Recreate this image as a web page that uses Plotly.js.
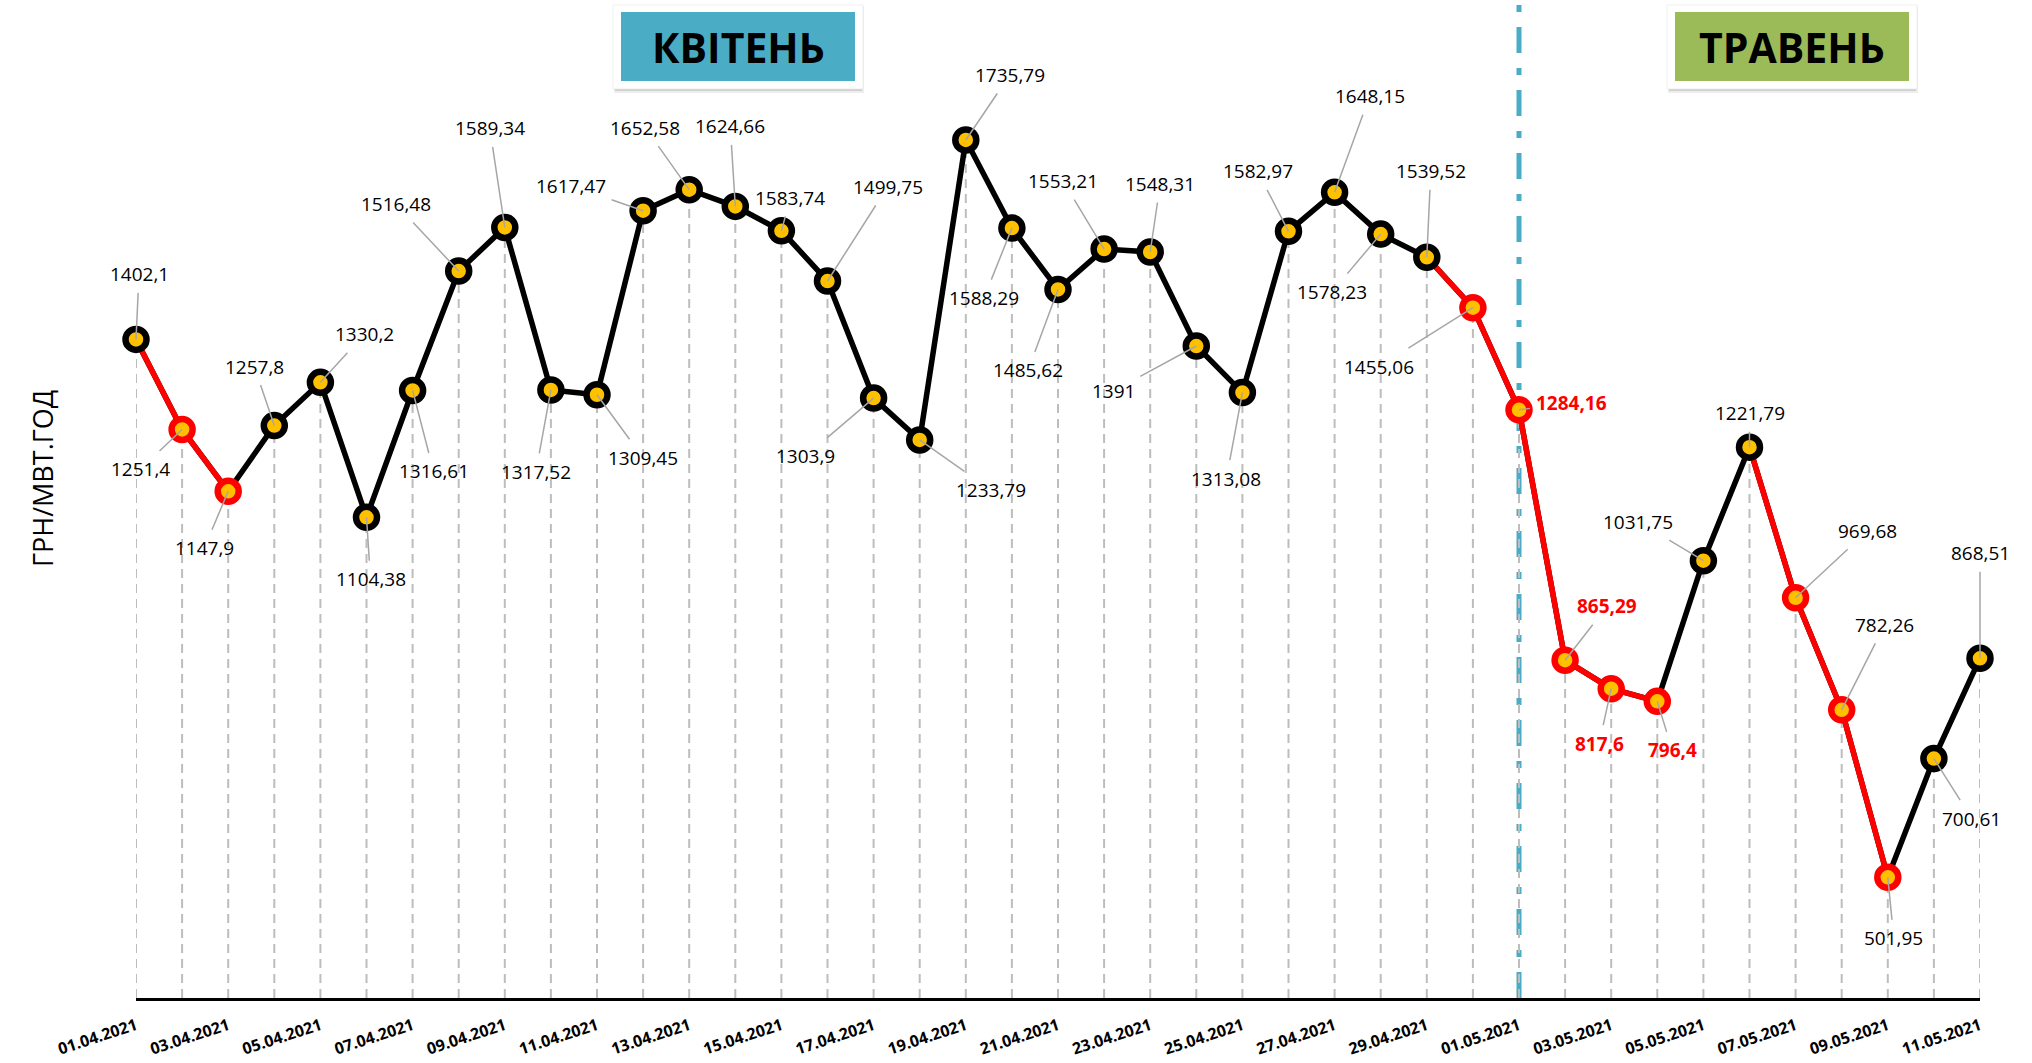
<!DOCTYPE html>
<html>
<head>
<meta charset="utf-8">
<script src="https://cdn.plot.ly/plotly-3.0.1.min.js"></script>
<style>
  html, body { margin: 0; padding: 0; background: #fff; }
  #chart { width: 2032px; height: 1063px; }
</style>
</head>
<body>
<div id="chart"></div>
<script>
const dates = [
  '01.04.2021', '02.04.2021', '03.04.2021', '04.04.2021', '05.04.2021', '06.04.2021',
  '07.04.2021', '08.04.2021', '09.04.2021', '10.04.2021', '11.04.2021', '12.04.2021',
  '13.04.2021', '14.04.2021', '15.04.2021', '16.04.2021', '17.04.2021', '18.04.2021',
  '19.04.2021', '20.04.2021', '21.04.2021', '22.04.2021', '23.04.2021', '24.04.2021',
  '25.04.2021', '26.04.2021', '27.04.2021', '28.04.2021', '29.04.2021', '30.04.2021',
  '01.05.2021', '02.05.2021', '03.05.2021', '04.05.2021', '05.05.2021', '06.05.2021',
  '07.05.2021', '08.05.2021', '09.05.2021', '10.05.2021', '11.05.2021'
];
const prices = [
  1402.1, 1251.4, 1147.9, 1257.8, 1330.2, 1104.38, 1316.61, 1516.48, 1589.34, 1317.52,
  1309.45, 1617.47, 1652.58, 1624.66, 1583.74, 1499.75, 1303.9, 1233.79, 1735.79, 1588.29,
  1485.62, 1553.21, 1548.31, 1391, 1313.08, 1582.97, 1648.15, 1578.23, 1539.52, 1455.06,
  1284.16, 865.29, 817.6, 796.4, 1031.75, 1221.79, 969.68, 782.26, 501.95, 700.61, 868.51
];
// segment i -> i+1 drawn in red
const redSegments = [0, 1, 28, 29, 30, 31, 32, 35, 36, 37];
const redMarkers = [1, 2, 29, 30, 31, 32, 33, 36, 37, 38];
const boldLabels = [30, 31, 32, 33];
const tickDates = dates.filter((d, i) => i % 2 === 0);
const months = ['КВІТЕНЬ', 'ТРАВЕНЬ'];

// label offsets from the point, px
const labelOffsets = [
  [3, -65], [-42, 40], [-24, 57], [-20, -59], [44, -48], [4, 62], [21, 81], [-63, -67],
  [-15, -99], [-15, 82], [46, 63], [-72, -25], [-44, -62], [-5, -80], [9, -33], [60, -94],
  [-68, 58], [71, 50], [44, -65], [-28, 70], [-30, 81], [-41, -68], [10, -68], [-83, 45],
  [-16, 86], [-31, -60], [35, -96], [-49, 58], [4, -86], [-94, 59], [52, -7], [42, -54],
  [-12, 55], [15, 49], [-65, -39], [0, -34], [72, -67], [43, -85], [6, 61], [38, 60], [0, -105]
];

const M = {l: 136, r: 52, t: 0, b: 65};
const W = 2032 - M.l - M.r, H = 1063 - M.t - M.b;
const px = v => (v - M.l) / W;
const py = v => (H - v) / H;
const FONT = 'Open Sans';

const redY = prices.map((v, i) =>
  (redSegments.includes(i) || redSegments.includes(i - 1)) ? v : null);

const traces = [
  {x: dates, y: prices, mode: 'lines', line: {color: '#000000', width: 5.5}, cliponaxis: false},
  {x: dates, y: redY, mode: 'lines', line: {color: '#FF0000', width: 5.5}, connectgaps: false, cliponaxis: false},
  {
    x: dates, y: prices, mode: 'markers', cliponaxis: false,
    marker: {
      size: 21, color: '#FFC000',
      line: {width: 6.5, color: prices.map((v, i) => redMarkers.includes(i) ? '#FF0000' : '#000000')}
    }
  }
];

const shapes = dates.map((d, i) => ({
  type: 'line', xref: 'x', yref: 'y', x0: d, x1: d, y0: 300, y1: prices[i],
  layer: 'below', line: {color: '#BDBDBD', width: 2, dash: '9px,6px'}
}));

shapes.push({
  type: 'line', xref: 'x', yref: 'paper', x0: '01.05.2021', x1: '01.05.2021', y0: 0, y1: 0.995,
  layer: 'below', line: {color: '#4BACC6', width: 5, dash: '26px,15px,7px,15px'}
});

const annotations = prices.map((v, i) => ({
  x: dates[i], y: v, xref: 'x', yref: 'y',
  text: String(v).replace('.', ','),
  showarrow: true, arrowhead: 0, arrowwidth: 1.5, arrowcolor: '#A6A6A6', standoff: 0,
  ax: labelOffsets[i][0], ay: labelOffsets[i][1], borderpad: 5,
  font: {
    family: FONT, size: 19,
    color: boldLabels.includes(i) ? '#FF0000' : '#000000',
    weight: boldLabels.includes(i) ? 'bold' : 'normal'
  }
}));

// month boxes
const boxes = [
  {x0: 621, x1: 855, fill: '#4BACC6'},
  {x0: 1675, x1: 1909, fill: '#9BBB59'}
];
boxes.forEach((b, k) => {
  shapes.push({type: 'rect', xref: 'paper', yref: 'paper', x0: px(b.x0 - 7), x1: px(b.x1 + 9),
    y0: py(93), y1: py(6), line: {width: 0}, fillcolor: 'rgba(0,0,0,0.07)'});
  shapes.push({type: 'rect', xref: 'paper', yref: 'paper', x0: px(b.x0 - 6), x1: px(b.x1 + 7),
    y0: py(91), y1: py(8), line: {width: 0}, fillcolor: 'rgba(0,0,0,0.12)'});
  shapes.push({type: 'rect', xref: 'paper', yref: 'paper', x0: px(b.x0 - 8), x1: px(b.x1 + 8),
    y0: py(89), y1: py(5), line: {width: 0.6, color: '#E6E6E6'}, fillcolor: '#FFFFFF'});
  shapes.push({type: 'rect', xref: 'paper', yref: 'paper', x0: px(b.x0), x1: px(b.x1),
    y0: py(81), y1: py(12), line: {width: 0}, fillcolor: b.fill});
  annotations.push({xref: 'paper', yref: 'paper', x: px((b.x0 + b.x1) / 2), y: py(47),
    text: months[k], showarrow: false, xanchor: 'center', yanchor: 'middle',
    font: {family: FONT, size: 41, weight: 'bold', color: '#000000'}});
});

annotations.push({
  xref: 'paper', yref: 'paper', x: px(42), y: py(479), text: 'ГРН/МВТ.ГОД',
  textangle: -90, showarrow: false, xanchor: 'center', yanchor: 'middle',
  font: {family: FONT, size: 27, color: '#000000'}
});

const layout = {
  width: 2032, height: 1063,
  margin: M,
  paper_bgcolor: '#FFFFFF', plot_bgcolor: '#FFFFFF',
  showlegend: false,
  xaxis: {
    type: 'category', range: [0, 40],
    showline: true, linecolor: '#000000', linewidth: 2.5,
    showgrid: false, zeroline: false, ticks: '',
    tickmode: 'array', tickvals: tickDates, ticktext: tickDates,
    tickangle: -18, ticklabelstandoff: 10,
    tickfont: {family: FONT, size: 16, weight: 'bold', color: '#000000'}
  },
  yaxis: {
    range: [300, 1970],
    showline: false, showgrid: false, zeroline: false, showticklabels: false, ticks: ''
  },
  shapes: shapes,
  annotations: annotations
};

Plotly.newPlot('chart', traces, layout, {staticPlot: true});
</script>
</body>
</html>
